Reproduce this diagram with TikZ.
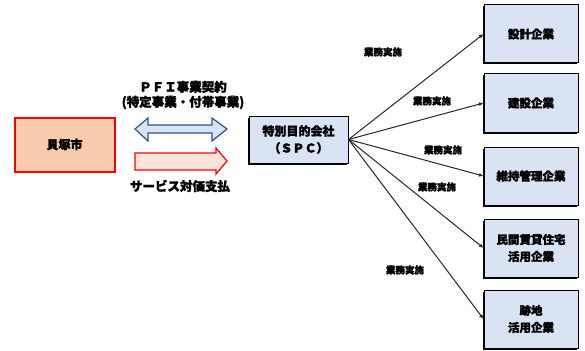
\documentclass[tikz,border=0pt]{standalone}
\usepackage{fontspec}
\setmainfont{Noto Sans CJK JP}[FakeBold=2]
\usetikzlibrary{arrows.meta}
\definecolor{boxblue}{HTML}{DAE3F3}
\definecolor{peach}{HTML}{F8CBAD}
\definecolor{arrblue}{HTML}{DAE3F3}
\definecolor{arrblueline}{HTML}{2F5597}
\definecolor{arrpink}{HTML}{FCE4DC}
\tikzset{
  company/.style={draw=black, line width=1pt, fill=boxblue, minimum width=94pt, minimum height=58pt, inner sep=1pt, align=center, font=\fontsize{11.5}{17}\selectfont\bfseries},
  shadowed/.style={preaction={fill=black, transform canvas={xshift=-1.2pt, yshift=-1.5pt}}},
  city/.style={draw=red, line width=2pt, fill=peach, minimum width=100pt, minimum height=54pt, font=\fontsize{12}{14}\selectfont\bfseries},
  spc/.style={draw=black, line width=1pt, fill=boxblue, minimum width=99pt, minimum height=47pt, inner sep=1pt, align=center, font=\fontsize{12}{17}\selectfont\bfseries},
  worklbl/.style={font=\fontsize{9.5}{11}\selectfont\bfseries},
  toplbl/.style={font=\fontsize{12.5}{15}\selectfont\bfseries, align=center},
  conn/.style={draw=black!85, line width=1pt, -{Latex[length=4.5pt,width=4pt]}}
}
\begin{document}
\begin{tikzpicture}[x=1pt,y=-1pt]
\useasboundingbox (0,0) rectangle (585,350);
% left box
\node[city] (kz) at (64.5,144.5) {貝塚市};
% SPC
\node[spc, shadowed] (spc) at (298.5,139.5) {特別目的会社\\（ＳＰＣ）};
% company boxes
\node[company, shadowed] (c1) at (531,34) {設計企業};
\node[company, shadowed] (c2) at (531,103) {建設企業};
\node[company, shadowed] (c3) at (531,176) {維持管理企業};
\node[company, shadowed] (c4) at (531,248) {民間賃貸住宅\\活用企業};
\node[company, shadowed] (c5) at (531,319) {跡地\\活用企業};
% arrows (shapes)
\draw[arrblueline, line width=1.2pt, fill=arrblue, line join=miter]
  (135,129) -- (148,118) -- (148,125) -- (212,125) -- (212,118) -- (227,129)
  -- (212,141) -- (212,133) -- (148,133) -- (148,141) -- cycle;
\draw[red, line width=1.2pt, fill=arrpink, line join=miter]
  (135,153) -- (216,153) -- (216,148) -- (227,161) -- (216,174) -- (216,170) -- (135,170) -- cycle;
\node[toplbl] (pfi) at (183,95) {ＰＦＩ事業契約\\(特定事業・付帯事業)};
\node[toplbl] (svc) at (180,186) {サービス対価支払};
% connectors
\foreach \c in {c1,c2,c3,c4,c5}{
  \draw[conn] (spc.east) -- (\c.west);
}
% labels
\node[worklbl] (w1) at (383,52) {業務実施};
\node[worklbl] (w2) at (432,101) {業務実施};
\node[worklbl] (w3) at (443,150) {業務実施};
\node[worklbl] (w4) at (437,187) {業務実施};
\node[worklbl] (w5) at (405,270) {業務実施};
\end{tikzpicture}
\end{document}
